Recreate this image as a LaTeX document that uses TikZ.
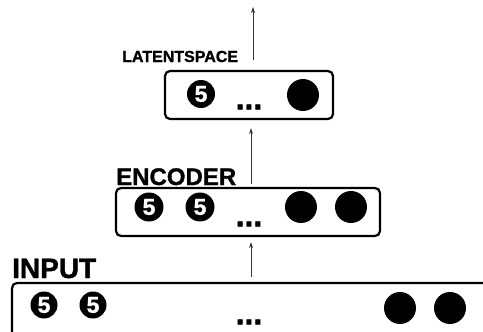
\documentclass[tikz,border=0pt]{standalone}
\usepackage{fontspec}
\setmainfont{Liberation Sans}[BoldFeatures={FakeBold=1.2}]
\usetikzlibrary{arrows.meta}
\tikzset{
  box/.style={draw=black, line width=2.2pt, rounded corners=5pt, inner sep=0pt},
  five/.style={circle, fill=black, inner sep=0pt, minimum size=#1, text=white, font=\bfseries\fontsize{23}{23}\selectfont},
  dot/.style={circle, fill=black, inner sep=0pt, minimum size=#1},
  dots/.style={inner sep=0pt, font=\bfseries\fontsize{32}{32}\selectfont},
  lbl/.style={anchor=base west, inner sep=0pt, font=\bfseries\fontsize{#1}{#1}\selectfont},
  arr/.style={draw=black!80, line width=0.9pt, -{Stealth[length=6pt,width=4pt]}}
}
\begin{document}
\begin{tikzpicture}[x=1pt,y=-1pt]
\useasboundingbox (0,0) rectangle (483,332);
\clip (0,0) rectangle (483,332);
% boxes
\node[box, minimum width=485pt, minimum height=62pt] (inp) at (254.5,314) {};
\node[box, minimum width=264pt, minimum height=48pt] (enc) at (248,212) {};
\node[box, minimum width=168pt, minimum height=48pt] (lat) at (249,95) {};
% labels
\node[lbl=28] (tinp) at (12,278) {INPUT};
\node[lbl=24] (tenc) at (116,185) {ENCODER};
\node[lbl=16] (tlat) at (122,62) {LATENTSPACE};
% input contents
\node[five=27pt] (i1) at (44,305) {5};
\node[five=27pt] (i2) at (93,305) {5};
\node[dot=32pt] (i3) at (400,308) {};
\node[dot=32pt] (i4) at (450,308) {};
\node[dots] (id) at (249,322) {...};
% encoder contents
\node[five=29pt] (e1) at (149,207) {5};
\node[five=29pt] (e2) at (200,207) {5};
\node[dot=32pt] (e3) at (301,207) {};
\node[dot=32pt] (e4) at (351,207) {};
\node[dots] (ed) at (249,224) {...};
% latent contents
\node[five=28pt] (l1) at (201,94) {5};
\node[dot=32pt] (l2) at (303,95) {};
\node[dots] (ld) at (249,107) {...};
% arrows
\coordinate (out) at (253,7);
\draw[arr] ([shift={(3,-5)}]enc.south |- inp.north) -- ([shift={(3,5)}]enc.south);
\draw[arr] ([shift={(3,-3)}]enc.north) -- ([shift={(2,8)}]lat.south);
\draw[arr] ([shift={(4,-10)}]lat.north) -- (out);
\end{tikzpicture}
\end{document}
